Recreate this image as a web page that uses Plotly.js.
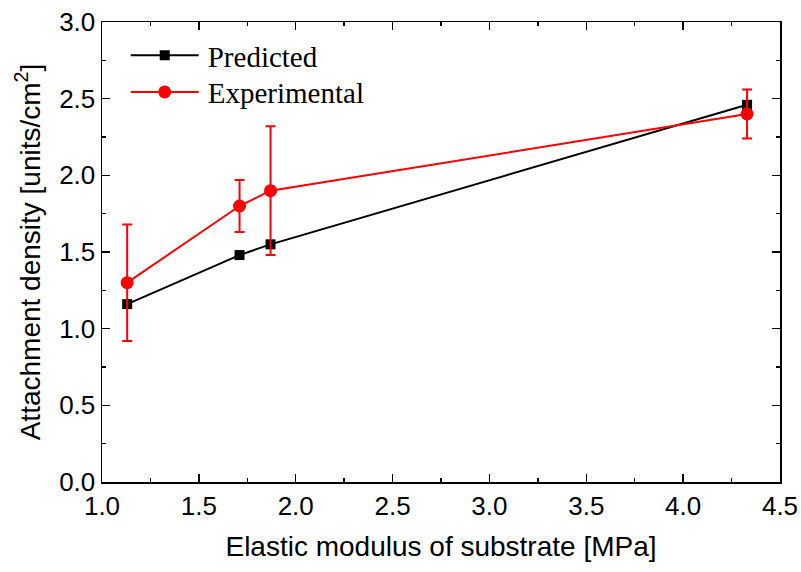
<!DOCTYPE html>
<html><head><meta charset="utf-8">
<script src="https://cdn.plot.ly/plotly-3.0.1.min.js"></script>
<style>body{margin:0;background:#fff}</style>
</head><body><div id="chart" style="width:801px;height:572px"></div>
<script>
const modulus = [1.13, 1.71, 1.87, 4.33];
const predicted = [1.16, 1.48, 1.55, 2.46];
const experimental = [1.30, 1.80, 1.90, 2.40];
const expError = [0.38, 0.17, 0.42, 0.16];
const xTicks = [1.0,1.5,2.0,2.5,3.0,3.5,4.0,4.5];
const yTicks = [0.0,0.5,1.0,1.5,2.0,2.5,3.0];

const traces = [
  {x: modulus, y: predicted, name: 'Predicted', mode: 'lines+markers',
   line: {color: '#000', width: 2}, marker: {symbol: 'square', size: 10, color: '#000'}},
  {x: modulus, y: experimental, name: 'Experimental', mode: 'lines+markers',
   line: {color: '#ff0000', width: 2}, marker: {symbol: 'circle', size: 13, color: '#ff0000'},
   error_y: {type: 'data', array: expError, visible: true, color: '#ff0000', thickness: 2, width: 5}}
];
const sans = 'Liberation Sans, Arial';
const axCommon = {showgrid: false, zeroline: false, showline: true, linecolor: '#000', linewidth: 1.5,
  mirror: 'allticks', ticks: 'inside', ticklen: 8, tickwidth: 1.5, tickcolor: '#000',
  tickfont: {family: sans, size: 26, color: '#000'},
  minor: {ticks: 'inside', ticklen: 4, tickwidth: 1.5, tickcolor: '#000'}};
const layout = {
  width: 801, height: 572, paper_bgcolor: '#fff', plot_bgcolor: '#fff',
  margin: {l: 102, r: 21, t: 22, b: 90},
  showlegend: true,
  legend: {x: 0.035, y: 0.985, xanchor: 'left', yanchor: 'top', bgcolor: 'rgba(0,0,0,0)',
    font: {family: 'Liberation Serif, Times New Roman', size: 29, color: '#000'}, tracegroupgap: 0},
  xaxis: Object.assign({}, axCommon, {range: [1.0, 4.5], tickvals: xTicks, ticktext: xTicks.map(v=>v.toFixed(1)),
    minor: Object.assign({}, axCommon.minor, {dtick: 0.25}),
    title: {text: 'Elastic modulus of substrate [MPa]', font: {family: sans, size: 28, color: '#000'}, standoff: 16}}),
  yaxis: Object.assign({}, axCommon, {range: [0, 3.0], tickvals: yTicks, ticktext: yTicks.map(v=>v.toFixed(1)),
    minor: Object.assign({}, axCommon.minor, {dtick: 0.25}),
    title: {text: 'Attachment density [units/cm<sup>2</sup>]', font: {family: sans, size: 28, color: '#000'}, standoff: 10}})
};
Plotly.newPlot('chart', traces, layout, {displayModeBar: false, staticPlot: true}).then(function(gd){
  // lengthen legend sample lines to match reference style
  gd.querySelectorAll('.legend [clip-path]').forEach(function(el){ el.removeAttribute('clip-path'); });
  gd.querySelectorAll('.legend rect.bg').forEach(function(r){ r.setAttribute('width', 300); });
  var rows = gd.querySelectorAll('.legend .traces');
  rows.forEach(function(tr, i){
    tr.querySelectorAll('.legendlines path').forEach(function(p){ p.setAttribute('d','M5,0h68'); });
    tr.querySelectorAll('.legendpoints path').forEach(function(p){ p.setAttribute('transform','translate(39,0)'); });
    var t = tr.querySelector('text.legendtext');
    if (t) t.setAttribute('x', 82);
    var m = /translate\(([^,]+),\s*([^)]+)\)/.exec(tr.getAttribute('transform') || '');
    if (m) {
      var y = parseFloat(m[2]) + (i === 0 ? 1 : -3);
      tr.setAttribute('transform', 'translate(' + m[1] + ',' + y + ')');
    }
  });
});
</script></body></html>
